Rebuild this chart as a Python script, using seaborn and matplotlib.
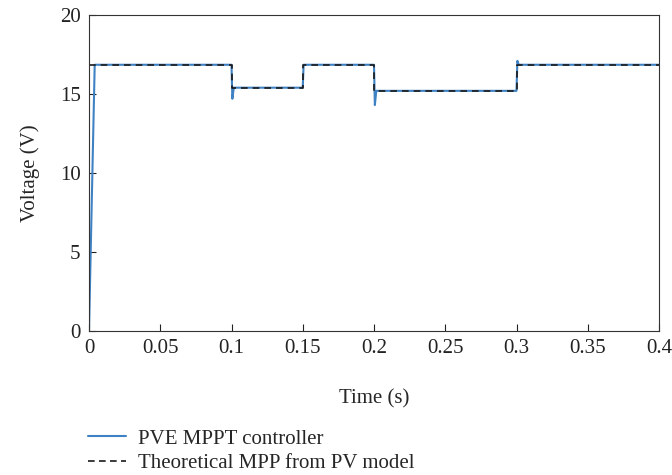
import matplotlib
matplotlib.use("Agg")
import matplotlib.pyplot as plt
import seaborn as sns
import pandas as pd

# Data
ctrl_time = [0, 0.004, 0.1, 0.1006, 0.1016, 0.15, 0.1506, 0.2, 0.2006, 0.2016, 0.3, 0.3006, 0.3016, 0.4]
ctrl_volt = [0, 16.85, 16.85, 14.7, 15.4, 15.4, 16.85, 16.85, 14.3, 15.2, 15.2, 17.1, 16.85, 16.85]
mpp_time = [0, 0.1, 0.1, 0.15, 0.15, 0.2, 0.2, 0.3, 0.3, 0.4]
mpp_volt = [16.85, 16.85, 15.4, 15.4, 16.85, 16.85, 15.2, 15.2, 16.85, 16.85]
x_ticks = [0, 0.05, 0.1, 0.15, 0.2, 0.25, 0.3, 0.35, 0.4]
x_tick_labels = ["0", "0.05", "0.1", "0.15", "0.2", "0.25", "0.3", "0.35", "0.4"]
y_ticks = [0, 5, 10, 15, 20]

sns.set_style("ticks")
plt.rcParams['font.family'] = ['Liberation Serif', 'DejaVu Serif']

FS = 15
fig = plt.figure(figsize=(6.72, 4.75), dpi=100)
ax = fig.add_axes([89 / 672, 1 - 331 / 475, 570 / 672, 316 / 475])

df_ctrl = pd.DataFrame({"t": ctrl_time, "v": ctrl_volt})
df_mpp = pd.DataFrame({"t": mpp_time, "v": mpp_volt})

sns.lineplot(data=df_ctrl, x="t", y="v", ax=ax, estimator=None, sort=False,
             color="#3f82c4", linewidth=1.5, label="PVE MPPT controller")
sns.lineplot(data=df_mpp, x="t", y="v", ax=ax, estimator=None, sort=False,
             color="#1a1a1a", linewidth=1.2, label="Theoretical MPP from PV model")
ax.lines[1].set_dashes((4, 3))

ax.set_xlim(0, 0.4)
ax.set_ylim(0, 20)
ax.set_xticks(x_ticks)
ax.set_xticklabels(x_tick_labels)
ax.set_yticks(y_ticks)
ax.tick_params(direction="in", length=5, width=0.8, labelsize=FS, colors="#222222")
ax.tick_params(axis="x", pad=6)
ax.tick_params(axis="y", pad=6)
for s in ax.spines.values():
    s.set_linewidth(0.8)
    s.set_color("#333333")
    s.set_visible(True)

ax.set_xlabel("Time (s)", fontsize=FS, labelpad=22)
ax.set_ylabel("Voltage (V)", fontsize=FS, labelpad=14)

h, l = ax.get_legend_handles_labels()
ax.get_legend().remove()
leg = fig.legend(h, l, loc="upper left", bbox_to_anchor=(88 / 672, 1 - 429 / 475), frameon=False,
                 fontsize=FS, handlelength=1.8, handletextpad=0.6, labelspacing=0.25,
                 borderaxespad=0, borderpad=0)
leg.get_lines()[1].set_dashes((4, 2.6))

fig.savefig("out.png", dpi=100)
